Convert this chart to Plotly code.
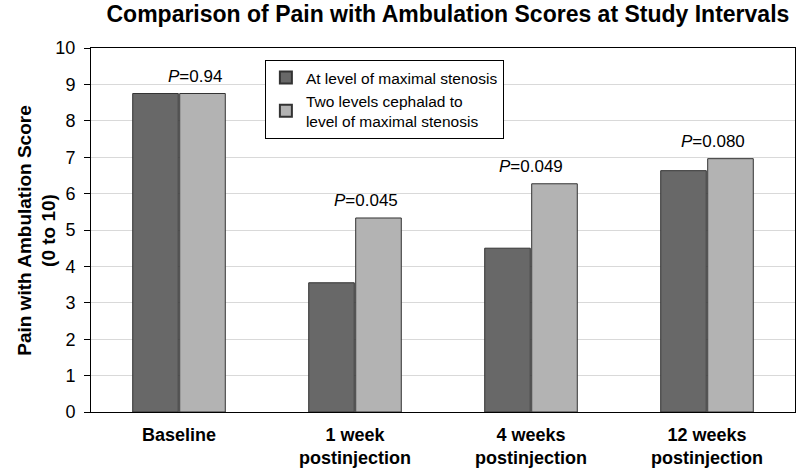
import plotly.graph_objects as go

categories = ["Baseline", "1 week<br>postinjection", "4 weeks<br>postinjection", "12 weeks<br>postinjection"]
at_level = [8.75, 3.55, 4.5, 6.63]
two_levels = [8.75, 5.33, 6.27, 6.96]
p_labels = ["<i>P</i>=0.94", "<i>P</i>=0.045", "<i>P</i>=0.049", "<i>P</i>=0.080"]
series_names = ["At level of maximal stenosis", "Two levels cephalad to<br>level of maximal stenosis"]

p_xshift = [16, 11, 0, 6]

REG = "Liberation Sans, Arial, sans-serif"
BOLD = "Liberation Sans, Arial, sans-serif"

fig = go.Figure()
fig.add_trace(go.Bar(x=categories, y=at_level, name=series_names[0],
                     marker=dict(color="#686868", line=dict(color="#333333", width=1))))
fig.add_trace(go.Bar(x=categories, y=two_levels, name=series_names[1],
                     marker=dict(color="#b3b3b3", line=dict(color="#333333", width=1))))

for i, cat in enumerate(categories):
    fig.add_annotation(x=cat, y=max(at_level[i], two_levels[i]), text=p_labels[i],
                       showarrow=False, yanchor="bottom", yshift=6, xshift=p_xshift[i],
                       font=dict(family=REG, size=17, color="black"))

fig.add_annotation(xref="paper", yref="paper", x=-0.077, y=0.5, xanchor="center", yanchor="middle",
                   text="<b>Pain with Ambulation Score<br>(0 to 10)</b>", textangle=-90,
                   showarrow=False, font=dict(family=BOLD, size=19, color="black"))

fig.update_layout(
    width=797, height=468,
    margin=dict(l=91, r=2, t=48, b=56, autoexpand=False),
    paper_bgcolor="white", plot_bgcolor="white",
    barmode="group", bargap=0.466, bargroupgap=0.03,
    title=dict(text="<b>Comparison of Pain with Ambulation Scores at Study Intervals</b>",
               x=0.562, xanchor="center", y=0.97, yanchor="middle",
               font=dict(family=BOLD, size=23, color="black")),
    legend=dict(x=0.247, y=0.967, xanchor="left", yanchor="top",
                bgcolor="white", bordercolor="black", borderwidth=1,
                font=dict(family=REG, size=15.5, color="black"),
                itemsizing="constant", tracegroupgap=2),
    showlegend=True,
)
fig.update_xaxes(type="category", showline=True, linecolor="black", linewidth=1, mirror=True,
                 ticks="", showgrid=False, automargin=False, ticklabelstandoff=6,
                 tickfont=dict(family=BOLD, size=18, color="black", weight="bold"))
fig.update_yaxes(range=[0, 10], dtick=1, showline=True, linecolor="black", linewidth=1, mirror=True,
                 ticks="outside", ticklen=6, tickcolor="black", automargin=False,
                 ticklabelstandoff=5,
                 showgrid=True, gridcolor="#d9d9d9", gridwidth=1,
                 tickfont=dict(family=REG, size=18, color="black"))

fig.write_html("out.html", config={"displayModeBar": False},
               post_script="document.body.style.margin='0';")
